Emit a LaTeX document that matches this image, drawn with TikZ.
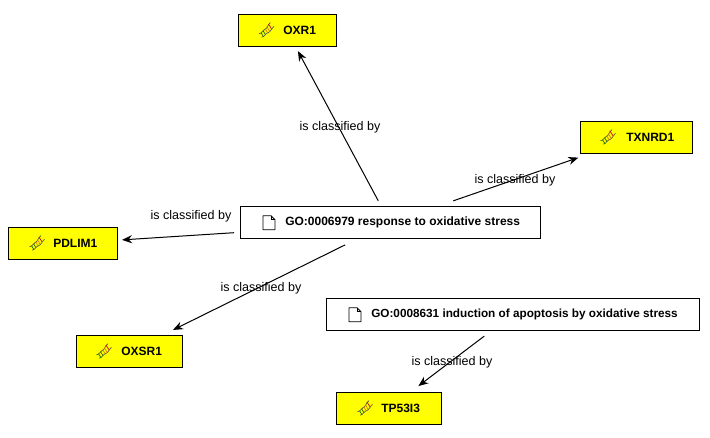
\documentclass[tikz,border=0pt]{standalone}
\usepackage{fontspec}
\setmainfont{Liberation Sans}
\usetikzlibrary{arrows.meta}
\definecolor{boxyellow}{RGB}{255,255,0}
\tikzset{
  x=0.75pt,y=-0.75pt,
  genebox/.style={draw=black,fill=boxyellow,line width=0.75pt,minimum height=24pt,inner sep=0pt,outer sep=0pt},
  gobox/.style={draw=black,fill=white,line width=0.75pt,minimum height=24pt,inner sep=0pt,outer sep=0pt},
  boxtext/.style={font=\bfseries\fontsize{9}{11}\selectfont,anchor=west,inner sep=0pt},
  edgetext/.style={font=\fontsize{9.4}{11}\selectfont,inner sep=0pt},
  conn/.style={draw=black,line width=0.75pt,-{Stealth[length=7.5pt,width=6pt]}},
  dnaicon/.pic={
    \draw[black!70,line width=0.45pt] (-7.5,3.5) .. controls (-4,3.5) and (-4,-0.5) .. (-1.5,-1) .. controls (1,-1.5) and (1,-6) .. (4,-7.5);
    \draw[black!70,line width=0.45pt] (-5,7) .. controls (-2,7) and (-1,3) .. (1.5,2.5) .. controls (4,2) and (5,-2) .. (7.5,-4);
    \draw[green!40!black,line width=0.45pt] (-5.5,2.5) -- (-3,6.5) (-3.5,0.5) -- (-1,4.5);
    \draw[orange!90!black,line width=0.5pt] (-1,-1) -- (1,2.5) (0.5,-3.5) -- (3,1);
    \draw[red!80!black,line width=0.5pt] (2,-6) -- (5,-1.5);
  },
  docicon/.pic={
    \draw[black,fill=white,line width=0.6pt,line join=round] (-6,-7) -- (2,-7) -- (6,-3) -- (6,7) -- (-6,7) -- cycle;
    \draw[black,line width=0.5pt] (2,-7) -- (2,-3) -- (6,-3);
  }
}
\begin{document}
\begin{tikzpicture}
\useasboundingbox (0,0) rectangle (710,438);
\node[genebox,minimum width=73.5pt] (oxr) at (287,30.7) {};
\node[genebox,minimum width=84pt] (txn) at (636,137.7) {};
\node[gobox,minimum width=225pt] (go1) at (390,222.7) {};
\node[genebox,minimum width=81.75pt] (pdl) at (62.5,243.7) {};
\node[genebox,minimum width=79.5pt] (oxs) at (129,351.7) {};
\node[gobox,minimum width=279.75pt] (go2) at (512.5,314.7) {};
\node[genebox,minimum width=78.75pt] (tp) at (388.5,408.7) {};

\pic at (266.5,30.2) {dnaicon};
\pic at (608,137.2) {dnaicon};
\pic at (37,243.2) {dnaicon};
\pic at (104,351.2) {dnaicon};
\pic at (365,408.2) {dnaicon};
\pic at (269,222.7) {docicon};
\pic at (355,314.7) {docicon};

\node[boxtext] (toxr) at (283,30.7) {OXR1};
\node[boxtext] (ttxn) at (626,137.7) {TXNRD1};
\node[boxtext] (tgo1) at (285,222.7) {GO:0006979 response to oxidative stress};
\node[boxtext,font=\bfseries\fontsize{8.82}{11}\selectfont] (tgo2) at (371,314.7) {GO:0008631 induction of apoptosis by oxidative stress};
\node[boxtext] (tpdl) at (53,243.7) {PDLIM1};
\node[boxtext] (toxs) at (121,351.7) {OXSR1};
\node[boxtext] (ttp) at (381,408.7) {TP53I3};

\draw[conn,shorten <=5pt,shorten >=3.75pt] (go1) -- (oxr);
\draw[conn,shorten <=13.5pt,shorten >=9pt] (go1) -- (txn);
\draw[conn,shorten <=4.5pt,shorten >=3.75pt] (go1) -- (pdl);
\draw[conn,shorten <=10.5pt,shorten >=9.75pt] (go1) -- (oxs);
\draw[conn,shorten <=6.75pt,shorten >=8.25pt] (go2) -- (tp);

\node[edgetext] (e1) at (340,127) {is classified by};
\node[edgetext] (e2) at (515,180) {is classified by};
\node[edgetext] (e3) at (191,216) {is classified by};
\node[edgetext] (e4) at (261,288) {is classified by};
\node[edgetext] (e5) at (452,362) {is classified by};
\end{tikzpicture}
\end{document}
